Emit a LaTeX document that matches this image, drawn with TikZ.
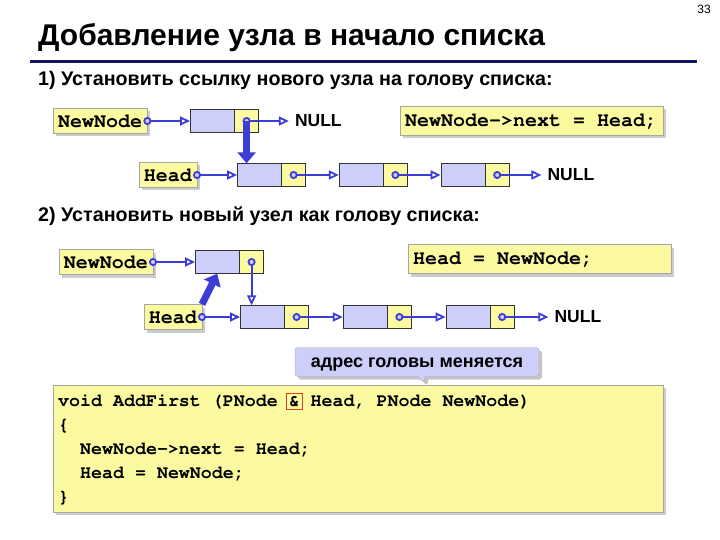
\documentclass[tikz,border=0pt]{standalone}
\usepackage[T1,TU]{fontenc}
\usepackage{fontspec}
\setmainfont{Liberation Sans}
\newcommand{\codefont}{\fontencoding{T1}\fontfamily{pcr}\bfseries}
\newcommand{\csp}{\hspace*{0.6em}}
\usepackage{xcolor}
\usetikzlibrary{arrows.meta,calc,positioning,shadows,shapes.callouts}

\definecolor{noteyellow}{RGB}{252,250,160}
\definecolor{celllav}{RGB}{206,206,250}
\definecolor{linkblue}{RGB}{60,60,215}
\definecolor{rulenavy}{RGB}{20,20,100}
\definecolor{markred}{RGB}{220,60,40}

\newcommand{\markamp}{\begingroup\setlength{\fboxsep}{2pt}\setlength{\fboxrule}{1pt}%
	\makebox[0pt][l]{\hspace{-3pt}\textcolor{markred}{\fbox{\phantom{\&}}}}\&\endgroup}

\begin{document}
\begin{tikzpicture}[
	x=1pt, y=-1pt,
	lbl/.style={draw=gray!70, fill=noteyellow, drop shadow={shadow xshift=3pt, shadow yshift=-3pt, fill=gray!80},
		font=\codefont\fontsize{20}{24}\selectfont, inner xsep=5pt, minimum height=25pt},
	codelbl/.style={lbl, text width=253pt, align=left, minimum height=29pt},
	datacell/.style={draw=black!80, fill=celllav, minimum width=44pt, minimum height=23pt, inner sep=0pt},
	nextcell/.style={draw=black!80, fill=noteyellow, minimum width=24pt, minimum height=23pt, inner sep=0pt},
	nulltxt/.style={font=\bfseries\fontsize{17.5}{20}\selectfont, inner xsep=6pt},
	step txt/.style={font=\bfseries\fontsize{19.7}{22}\selectfont, anchor=west, inner sep=0pt},
	ptr/.style={draw=linkblue, line width=1.8pt, shorten <=-4pt,
		{Circle[length=8pt, fill=celllav]}-{Triangle[open, length=10pt, width=9pt, fill=white]}},
	bigarrow/.style={draw=linkblue, line width=7pt, -{Triangle[length=11pt, width=18pt]}}
	]
	\useasboundingbox (0,0) rectangle (720,540);

	% title
	\node[anchor=north east, inner sep=0pt, font=\fontsize{12}{14}\selectfont] (page) at (711,5) {33};
	\node[anchor=west, inner sep=0pt, font=\bfseries\fontsize{30}{34}\selectfont] (title) at (38,38) {Добавление узла в начало списка};
	\draw[rulenavy, line width=3pt] (30,62) -- (697,62);

	% step 1
	\node[step txt] (step1) at (38,80) {1) Установить ссылку нового узла на голову списка:};
	\node[lbl, anchor=west] (nn1) at (53,121) {NewNode};
	\node[datacell, anchor=west] (n1) at (190,121) {};
	\node[nextcell, right=0pt of n1] (n1n) {};
	\node[nulltxt, right=30pt of n1n] (null1) {NULL};
	\node[codelbl, anchor=west] (code1) at (400,121) {NewNode->next\csp=\csp Head;};

	\node[lbl, anchor=east] (h1) at (197,175) {Head};
	\node[datacell, anchor=west] (a1) at (237,175) {};
	\node[nextcell, right=0pt of a1] (a1n) {};
	\node[datacell, right=33pt of a1n] (b1) {};
	\node[nextcell, right=0pt of b1] (b1n) {};
	\node[datacell, right=33pt of b1n] (c1) {};
	\node[nextcell, right=0pt of c1] (c1n) {};
	\node[nulltxt, right=32pt of c1n] (null2) {NULL};

	\draw[ptr] (nn1.east) -- (n1.west);
	\draw[ptr] (n1n.center) -- (null1.west);
	\draw[ptr] (h1.east) -- (a1.west);
	\draw[ptr] (a1n.center) -- (b1.west);
	\draw[ptr] (b1n.center) -- (c1.west);
	\draw[ptr] (c1n.center) -- (null2.west);
	\draw[bigarrow] (n1n.center) -- (n1n.center |- a1.north);

	% step 2
	\node[step txt] (step2) at (38,216) {2) Установить новый узел как голову списка:};
	\node[lbl, anchor=east] (nn2) at (153,262) {NewNode};
	\node[datacell, anchor=west] (n2) at (195,262) {};
	\node[nextcell, right=0pt of n2] (n2n) {};
	\node[codelbl, anchor=west] (code2) at (408,259) {Head\csp=\csp NewNode;};

	\node[lbl, anchor=east] (h2) at (202,317) {Head};
	\node[datacell, anchor=west] (a2) at (240,317) {};
	\node[nextcell, right=0pt of a2] (a2n) {};
	\node[datacell, right=34pt of a2n] (b2) {};
	\node[nextcell, right=0pt of b2] (b2n) {};
	\node[datacell, right=34pt of b2n] (c2) {};
	\node[nextcell, right=0pt of c2] (c2n) {};
	\node[nulltxt, right=34pt of c2n] (null3) {NULL};

	\draw[ptr] (nn2.east) -- (n2.west);
	\draw[ptr] (n2n.center) -- (n2n.center |- a2.north);
	\draw[ptr] (h2.east) -- (a2.west);
	\draw[ptr] (a2n.center) -- (b2.west);
	\draw[ptr] (b2n.center) -- (c2.west);
	\draw[ptr] (c2n.center) -- (null3.west);
	\draw[bigarrow] (h2.north east) -- (n2.south);

	% note and code
	\node[rectangle callout, callout absolute pointer={(424,383)}, draw=gray!70, fill=celllav, rounded corners=3pt,
		drop shadow={shadow xshift=3pt, shadow yshift=-3pt, fill=gray!90},
		minimum width=244pt, minimum height=29pt, text height=11pt, text depth=0pt,
		font=\bfseries\fontsize{18}{20}\selectfont] (note) at (417,362) {адрес головы меняется};

	\node[lbl, anchor=north west, text width=600pt, align=left, minimum height=127pt, inner sep=5pt,
		font=\codefont\fontsize{18.3}{24}\selectfont] (code) at (53,385)
		{void\csp AddFirst\csp(PNode\csp\markamp\csp Head,\csp PNode\csp NewNode)\\
		\{\\
		\csp\csp NewNode->next\csp=\csp Head;\\
		\csp\csp Head\csp=\csp NewNode;\\
		\}};
\end{tikzpicture}
\end{document}
